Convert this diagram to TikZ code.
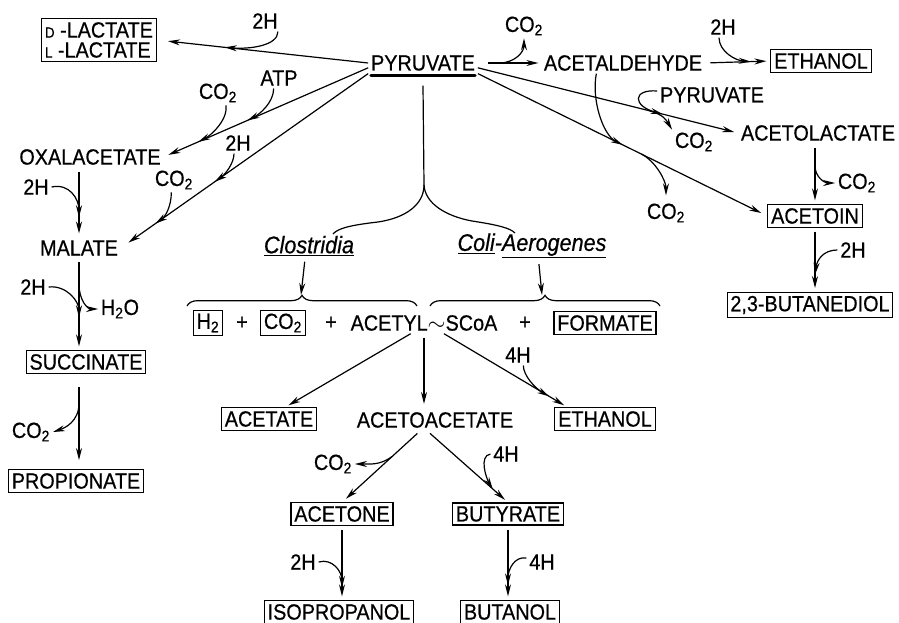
\documentclass[tikz,border=0pt]{standalone}
\usepackage{fontspec}
\setmainfont{Liberation Sans}[FakeStretch=0.9, FakeBold=0.6]
\usetikzlibrary{
    arrows.meta,
    decorations.pathreplacing
}
\tikzset{
  lbl/.style  = {inner sep=2pt},
  box/.style  = {draw, line width=0.8pt, inner sep=2.5pt},
  arr/.style  = {-{Stealth[length=9pt,width=4.5pt]}, line width=0.9pt},
  ln/.style   = {line width=0.9pt},
  brc/.style  = {decorate, decoration={brace, amplitude=8pt}, line width=0.9pt}
}
\newcommand{\sml}[1]{{\fontsize{11}{12}\selectfont #1}}
\newcommand{\itl}[1]{{\fontsize{18}{20}\selectfont\itshape #1}}

\begin{document}
\begin{tikzpicture}[x=0.75pt, y=-0.75pt, font=\fontsize{16.5}{19}\selectfont]
\useasboundingbox (0,0) rectangle (899,623);

% pyruvate and the top row
\node[lbl] (pyr) at (423,63) {PYRUVATE};
\draw[line width=2.2pt, line cap=round] ([xshift=2pt,yshift=-1.5pt]pyr.south west) -- ([xshift=-2pt,yshift=-1.5pt]pyr.south east);
\node[box, align=left, inner sep=3pt, font=\fontsize{16.5}{15}\selectfont] (lac) at (99,40) {\sml{D} -LACTATE\\\sml{L} -LACTATE};
\node[lbl] (h2a) at (265,21) {2H};
\node[lbl] (co2a) at (524,26) {CO\textsubscript{2}};
\node[lbl] (acald) at (623,63) {ACETALDEHYDE};
\node[lbl] (h2b) at (723,27) {2H};
\node[box] (etoh1) at (821,61) {ETHANOL};
\node[lbl] (pyr2) at (712,95) {PYRUVATE};
\node[lbl] (actl) at (818,133) {ACETOLACTATE};
\node[lbl] (co2b) at (694,142) {CO\textsubscript{2}};
\node[lbl] (co2c) at (666,213) {CO\textsubscript{2}};
\node[box] (acetoin) at (815,216) {ACETOIN};
\node[lbl] (co2d) at (857,183) {CO\textsubscript{2}};
\node[lbl] (h2c) at (853,250) {2H};
\node[box] (btd) at (810,305) {2,3-BUTANEDIOL};

% left column
\node[lbl] (oxa) at (90,157) {OXALACETATE};
\node[lbl] (co2e) at (218,93) {CO\textsubscript{2}};
\node[lbl] (atp) at (279,78) {ATP};
\node[lbl] (h2d) at (238,143) {2H};
\node[lbl] (co2f) at (174,180) {CO\textsubscript{2}};
\node[lbl] (mal) at (79,248) {MALATE};
\node[lbl] (h2e) at (36,187) {2H};
\node[lbl] (h2f) at (33,287) {2H};
\node[lbl] (h2o) at (120,309) {H\textsubscript{2}O};
\node[box] (succ) at (86,362) {SUCCINATE};
\node[lbl] (co2g) at (31,432) {CO\textsubscript{2}};
\node[box] (prop) at (76,481) {PROPIONATE};

% middle part
\node[lbl] (clos) at (309,246) {\itl{\underline{Clostridia}}};
\node[lbl] (coli) at (532,246) {\itl{\underline{Coli}-\underline{Aerogenes}}};
\node[box] (h2box) at (208,323) {H\textsubscript{2}};
\node[lbl] (pl1) at (242,323) {+};
\node[box] (co2box) at (283,323) {CO\textsubscript{2}};
\node[lbl] (pl2) at (331,323) {+};
\node[lbl] (acoa) at (424,323) {ACETYL$\sim$SCoA};
\node[lbl] (pl3) at (525,323) {+};
\node[box] (form) at (605,323) {FORMATE};
\node[box] (acet) at (269,419) {ACETATE};
\node[lbl] (aca) at (435,420) {ACETOACETATE};
\node[box] (etoh2) at (605,419) {ETHANOL};
\node[lbl] (h4a) at (518,355) {4H};
\node[lbl] (co2h) at (333,464) {CO\textsubscript{2}};
\node[lbl] (h4b) at (506,454) {4H};
\node[box] (acetone) at (342,514) {ACETONE};
\node[box] (buty) at (508,514) {BUTYRATE};
\node[lbl] (h2g) at (303,562) {2H};
\node[lbl] (h4c) at (542,562) {4H};
\node[box] (isop) at (339,612) {ISOPROPANOL};
\node[box] (buol) at (510,612) {BUTANOL};

% pyruvate -> lactate, oxalacetate, malate
\draw[arr, shorten >=8pt] (pyr.west) -- coordinate[pos=0.68] (jLac) (lac.east);
\draw[arr] ([xshift=-2pt]h2a.south east) .. controls +(0,14) and +(25,2) .. (jLac);
\draw[arr, shorten >=4pt] (pyr.185) -- coordinate[pos=0.59] (jAtp) coordinate[pos=0.83] (jCo2e) (oxa.east);
\draw[arr] ([xshift=6pt]co2e.south) .. controls +(2,15) and +(12,-6) .. (jCo2e);
\draw[arr] ([xshift=-4pt]atp.south) .. controls +(0,14) and +(12,-6) .. (jAtp);
\draw[arr, shorten >=7pt] (pyr.south west) -- coordinate[pos=0.62] (jH2d) coordinate[pos=0.86] (jCo2f) (mal.east);
\draw[arr] ([xshift=-3pt]h2d.south) .. controls +(0,10) and +(10,-7) .. (jH2d);
\draw[arr] ([xshift=-2pt]co2f.south) .. controls +(0,14) and +(10,-7) .. (jCo2f);

% oxalacetate -> malate -> succinate -> propionate
\draw[arr, shorten <=3pt, shorten >=3pt] (oxa.south -| mal.north) -- coordinate[pos=0.71] (jH2e) (mal.north);
\draw[arr] (h2e.east) .. controls +(18,-4) and +(0,-18) .. (jH2e);
\draw[arr, shorten <=3pt, shorten >=3pt] (mal.south) -- coordinate[pos=0.27] (jH2o) coordinate[pos=0.64] (jH2f) (mal.south |- succ.north);
\draw[arr] (jH2o) .. controls +(0,18) and +(-10,0) .. (h2o.west);
\draw[arr] (h2f.east) .. controls +(18,-2) and +(0,-16) .. (jH2f);
\draw[arr, shorten <=10pt, shorten >=7pt] (succ.south -| mal.south) -- coordinate[pos=0.31] (jCo2g) (mal.south |- prop.north);
\draw[arr] (jCo2g) .. controls +(0,18) and +(12,-4) .. (co2g.east);

% pyruvate -> acetaldehyde -> ethanol
\draw[arr, shorten <=8pt, shorten >=2pt] (pyr.east) -- coordinate[pos=0.34] (jCo2a) (acald.west);
\draw[arr] (jCo2a) .. controls +(15,0) and +(0,14) .. (co2a.south);
\draw[arr, shorten <=4pt, shorten >=3pt] (acald.east) -- coordinate[pos=0.7] (jH2b) (etoh1.west);
\draw[arr] ([xshift=-3pt]h2b.south) .. controls +(0,14) and +(-15,-1) .. (jH2b);

% pyruvate -> acetolactate -> acetoin -> butanediol
\draw[arr, shorten >=3pt] (pyr.-5) -- coordinate[pos=0.66] (jCo2b) coordinate[pos=0.71] (jPyr2) (actl.west);
\draw[arr] ([yshift=3pt]pyr2.west) .. controls +(-25,-2) and +(-30,-8) .. (jPyr2);
\draw[arr] (jCo2b) .. controls +(14,4) and +(-6,-10) .. (co2b.north west);
\draw[arr, shorten >=5pt] (pyr.south east) -- coordinate[pos=0.5] (jAcald) coordinate[pos=0.565] (jCo2c) (acetoin.west);
\draw[arr] ([xshift=-20pt]acald.south) .. controls +(-5,25) and +(-20,-10) .. (jAcald);
\draw[arr, shorten >=4pt] (jCo2c) .. controls +(14,7) and +(0,-20) .. (co2c.north);
\draw[arr, shorten <=3pt, shorten >=3pt] (acetoin.north |- actl.south) -- coordinate[pos=0.36] (jCo2d) (acetoin.north);
\draw[arr] (jCo2d) .. controls +(0,12) and +(-10,0) .. (co2d.west);
\draw[arr, shorten <=3pt, shorten >=3pt] (acetoin.south) -- coordinate[pos=0.73] (jH2c) (acetoin.south |- btd.north);
\draw[arr] (h2c.west) .. controls +(-14,0) and +(2,-15) .. (jH2c);

% fork down to the two groups
\coordinate (fork) at (424,185);
\coordinate (tipL) at (301,295);
\coordinate (tipR) at (542,295);
\draw[ln] ([yshift=-9pt]pyr.south) -- (fork);
\draw[ln] (fork) .. controls (424,205) and (405,218) .. (378,222) .. controls (352,225) and (338,228) .. (333,234);
\draw[ln] (fork) .. controls (425,203) and (445,216) .. (472,221) .. controls (498,225) and (510,228) .. (515,233);
\draw[arr, shorten <=2pt] ([xshift=-3pt]clos.south) -- (tipL);
\draw[arr, shorten <=2pt] ([xshift=5pt]coli.south) -- (tipR);
\draw[brc] (187,306) -- (417,306);
\draw[brc] (430,306) -- (660,306);

% acetyl-SCoA products
\draw[arr, shorten >=3pt] ([xshift=-10pt]acoa.south) -- ([xshift=12pt]acet.north);
\draw[arr, shorten <=3pt, shorten >=4pt] (acoa.south) -- (acoa.south |- aca.north);
\draw[arr, shorten >=3pt] ([xshift=15pt]acoa.south) -- coordinate[pos=0.85] (jH4a) ([xshift=-28pt]etoh2.north);
\draw[arr] ([xshift=4pt]h4a.south) .. controls +(0,10) and +(-14,-8) .. (jH4a);
\draw[arr, shorten <=3pt, shorten >=4pt] ([xshift=-11pt]aca.south) -- coordinate[pos=0.36] (jCo2h) (acetone.north);
\draw[arr] (jCo2h) .. controls +(-12,9) and +(14,0) .. (co2h.east);
\draw[arr, shorten <=3pt, shorten >=3pt] ([xshift=-6pt]aca.south) -- coordinate[pos=0.81] (jH4b) (buty.north);
\draw[arr] (h4b.west) .. controls +(-12,2) and +(-6,-10) .. (jH4b);
\draw[arr, shorten <=3pt, shorten >=3pt] (acetone.south) -- coordinate[pos=0.83] (jH2g) (acetone.south |- isop.north);
\draw[arr] (h2g.east) .. controls +(14,-4) and +(0,-16) .. (jH2g);
\draw[arr, shorten <=3pt, shorten >=3pt] (buty.south) -- coordinate[pos=0.8] (jH4c) (buty.south |- buol.north);
\draw[arr] ([yshift=3pt]h4c.west) .. controls +(-12,-2) and +(0,-16) .. (jH4c);
\end{tikzpicture}
\end{document}
